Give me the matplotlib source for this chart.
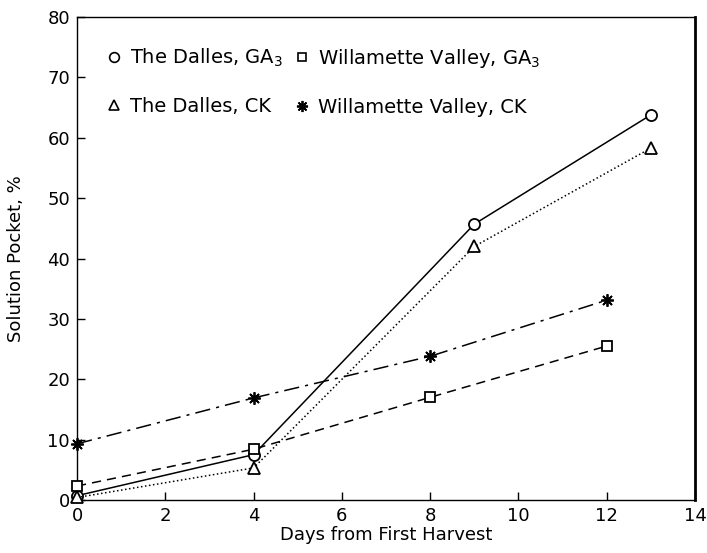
import matplotlib
matplotlib.use("Agg")
import matplotlib.pyplot as plt
from matplotlib.lines import Line2D

# values
days_dalles = [0, 4, 9, 13]
days_willamette = [0, 4, 8, 12]
dalles_ga3 = [0.7, 7.5, 45.7, 63.8]
dalles_ck = [0.4, 5.3, 42.0, 58.3]
willamette_ga3 = [2.3, 8.4, 17.0, 25.5]
willamette_ck = [9.3, 16.9, 23.8, 33.1]

x_ticks = [0, 2, 4, 6, 8, 10, 12, 14]
y_ticks = [0, 10, 20, 30, 40, 50, 60, 70, 80]

plt.rcParams['font.family'] = ['DejaVu Sans']

fig = plt.figure(figsize=(7.07, 5.53), dpi=100)
ax = fig.add_axes([0.109, 0.096, 0.874, 0.873])

mk = dict(color='black', markerfacecolor='white', markeredgecolor='black',
          markeredgewidth=1.3, linewidth=1.1, clip_on=False, zorder=3)

ax.plot(days_dalles, dalles_ga3, '-', marker='o', markersize=8, **mk)
ax.plot(days_dalles, dalles_ck, ':', marker='^', markersize=8, **mk)
ax.plot(days_willamette, willamette_ga3, '--', marker='s', markersize=7, dashes=(6, 4), **mk)
ax.plot(days_willamette, willamette_ck, '-.', marker=(8, 2, 0), markersize=9,
        dashes=(10, 4, 2, 4), **mk)

ax.set_xlim(0, 14)
ax.set_ylim(0, 80)
ax.set_xticks(x_ticks)
ax.set_yticks(y_ticks)
ax.tick_params(direction='in', length=6, width=1, labelsize=13, pad=5)
for side in ['left', 'bottom', 'top']:
    ax.spines[side].set_linewidth(1.0)
ax.spines['right'].set_linewidth(2.0)

ax.set_xlabel('Days from First Harvest', fontsize=13, labelpad=1)
ax.set_ylabel('Solution Pocket, %', fontsize=13, labelpad=16)

handles = [
    Line2D([], [], linestyle='none', marker='o', markersize=7, markerfacecolor='white',
           markeredgecolor='black', markeredgewidth=1.2),
    Line2D([], [], linestyle='none', marker='^', markersize=7, markerfacecolor='white',
           markeredgecolor='black', markeredgewidth=1.2),
    Line2D([], [], linestyle='none', marker='s', markersize=6, markerfacecolor='white',
           markeredgecolor='black', markeredgewidth=1.2),
    Line2D([], [], linestyle='none', marker=(8, 2, 0), markersize=8, color='black',
           markeredgewidth=1.3),
]
labels = ['The Dalles, GA$_3$', 'The Dalles, CK',
          'Willamette Valley, GA$_3$', 'Willamette Valley, CK']
ax.legend(handles, labels, ncol=2, frameon=False, loc='upper left',
          bbox_to_anchor=(0.02, 0.975), fontsize=14, handlelength=0.7,
          handletextpad=0.5, columnspacing=0.6, labelspacing=1.45)

fig.savefig('out.png', dpi=100)
